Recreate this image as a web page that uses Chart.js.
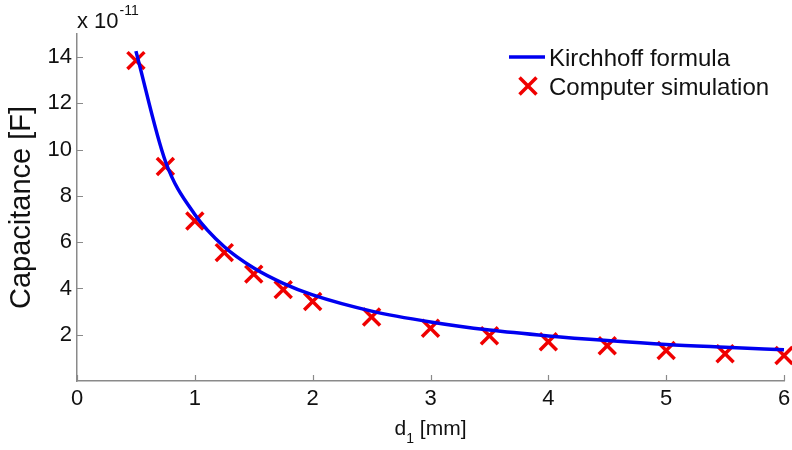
<!DOCTYPE html>
<html>
<head>
<meta charset="utf-8">
<script src="https://cdn.jsdelivr.net/npm/chart.js@4.4.1/dist/chart.umd.min.js"></script>
<style>
  html, body { margin: 0; padding: 0; background: #fff; }
  #wrap { width: 792px; height: 450px; }
</style>
</head>
<body>
<div id="wrap"><canvas id="grafico" width="792" height="450"></canvas></div>
<script>
// d1 in mm
var distancias = [0.5, 0.75, 1, 1.25, 1.5, 1.75, 2, 2.5, 3, 3.5, 4, 4.5, 5, 5.5, 6];
// capacitance, units of 1e-11 F
var kirchhoff = [14.26, 9.5, 7.2, 5.8, 4.88, 4.22, 3.72, 3.02, 2.55, 2.2, 1.95, 1.75, 1.58, 1.46, 1.35];
var simulacao = [13.85, 9.27, 6.92, 5.55, 4.62, 3.95, 3.44, 2.77, 2.28, 1.96, 1.7, 1.52, 1.32, 1.18, 1.1];

var ticksX = [0, 1, 2, 3, 4, 5, 6];
var ticksY = [2, 4, 6, 8, 10, 12, 14];

var FONTE = '"Liberation Sans", Arial, sans-serif';
var COR_EIXO = '#8a8a8a';
var COR_TEXTO = '#111';

function pares(xs, ys) {
    return xs.map(function(x, i) { return { x: x, y: ys[i] }; });
}

// inward ticks, x title with subscript, exponent label and legend inside the plot
var extras = {
    id: 'extras',
    afterDraw: function(chart) {
        var ctx = chart.ctx;
        var area = chart.chartArea;
        var sx = chart.scales.x, sy = chart.scales.y;
        ctx.save();
        ctx.strokeStyle = COR_EIXO;
        ctx.lineWidth = 1.2;
        ctx.beginPath();
        ticksX.forEach(function(v) {
            var px = Math.round(sx.getPixelForValue(v)) + 0.5;
            ctx.moveTo(px, area.bottom);
            ctx.lineTo(px, area.bottom - 6);
        });
        ticksY.forEach(function(v) {
            var py = Math.round(sy.getPixelForValue(v)) + 0.5;
            ctx.moveTo(area.left, py);
            ctx.lineTo(area.left + 6, py);
        });
        ctx.stroke();

        ctx.fillStyle = COR_TEXTO;
        ctx.textBaseline = 'alphabetic';
        ctx.textAlign = 'left';

        // x 10^-11
        ctx.font = '22px ' + FONTE;
        ctx.fillText('x 10', 77, 28);
        var w = ctx.measureText('x 10').width;
        ctx.font = '14px ' + FONTE;
        ctx.fillText('-11', 77 + w + 1, 15);

        // d1 [mm]
        var cx = (area.left + area.right) / 2;
        ctx.font = '21px ' + FONTE;
        var wd = ctx.measureText('d').width;
        var wr = ctx.measureText(' [mm]').width;
        ctx.font = '14px ' + FONTE;
        var ws = ctx.measureText('1').width;
        var x0 = cx - (wd + ws + wr) / 2;
        ctx.font = '21px ' + FONTE;
        ctx.fillText('d', x0, 435);
        ctx.fillText(' [mm]', x0 + wd + ws, 435);
        ctx.font = '14px ' + FONTE;
        ctx.fillText('1', x0 + wd, 443);

        // legend
        var dsLinha = chart.data.datasets[0];
        var dsPontos = chart.data.datasets[1];
        ctx.strokeStyle = dsLinha.borderColor;
        ctx.lineWidth = dsLinha.borderWidth;
        ctx.beginPath();
        ctx.moveTo(509, 57);
        ctx.lineTo(545, 57);
        ctx.stroke();
        ctx.strokeStyle = dsPontos.borderColor;
        ctx.lineWidth = dsPontos.borderWidth;
        Chart.helpers.drawPoint(ctx, {
            pointStyle: 'crossRot',
            radius: dsPontos.pointRadius,
            borderWidth: dsPontos.borderWidth,
            rotation: 0
        }, 528, 86);
        ctx.fillStyle = COR_TEXTO;
        ctx.font = '24px ' + FONTE;
        ctx.fillText(dsLinha.label, 549, 66);
        ctx.fillText(dsPontos.label, 549, 95);
        ctx.restore();
    }
};

var ctx = document.getElementById('grafico');
var grafico = new Chart(ctx.getContext('2d'), {
    type: 'line',
    data: {
        datasets: [
            {
                label: 'Kirchhoff formula',
                data: pares(distancias, kirchhoff),
                borderColor: '#0000f0',
                borderWidth: 3.5,
                pointRadius: 0,
                cubicInterpolationMode: 'monotone',
                fill: false,
                clip: false
            },
            {
                label: 'Computer simulation',
                data: pares(distancias, simulacao),
                showLine: false,
                pointStyle: 'crossRot',
                pointRadius: 12,
                borderWidth: 3.5,
                borderColor: '#f00000',
                backgroundColor: '#f00000',
                clip: false
            }
        ]
    },
    options: {
        responsive: false,
        animation: false,
        devicePixelRatio: 1,
        layout: { autoPadding: false, padding: { top: 34, right: 8, left: 0, bottom: 0 } },
        plugins: { legend: { display: false }, tooltip: { enabled: false } },
        scales: {
            x: {
                type: 'linear',
                min: 0, max: 6,
                grid: { display: false, drawTicks: false },
                border: { display: true, color: COR_EIXO, width: 1.5 },
                afterBuildTicks: function(s) { s.ticks = ticksX.map(function(v) { return { value: v }; }); },
                afterFit: function(s) { s.height = 69; s.paddingLeft = 0; s.paddingRight = 0; },
                ticks: {
                    autoSkip: false, maxRotation: 0, padding: 5,
                    color: COR_TEXTO, font: { family: FONTE, size: 22 }
                }
            },
            y: {
                type: 'linear',
                min: 0, max: 15,
                grid: { display: false, drawTicks: false },
                border: { display: true, color: COR_EIXO, width: 1.5 },
                afterBuildTicks: function(s) { s.ticks = ticksY.map(function(v) { return { value: v }; }); },
                afterFit: function(s) { s.width = 77; s.paddingTop = 0; s.paddingBottom = 0; },
                ticks: {
                    autoSkip: false, padding: 5,
                    color: COR_TEXTO, font: { family: FONTE, size: 22 }
                },
                title: {
                    display: true,
                    text: 'Capacitance [F]',
                    color: COR_TEXTO,
                    font: { family: FONTE, size: 29 },
                    padding: { top: 5, bottom: 0 }
                }
            }
        }
    },
    plugins: [extras]
});
</script>
</body>
</html>
